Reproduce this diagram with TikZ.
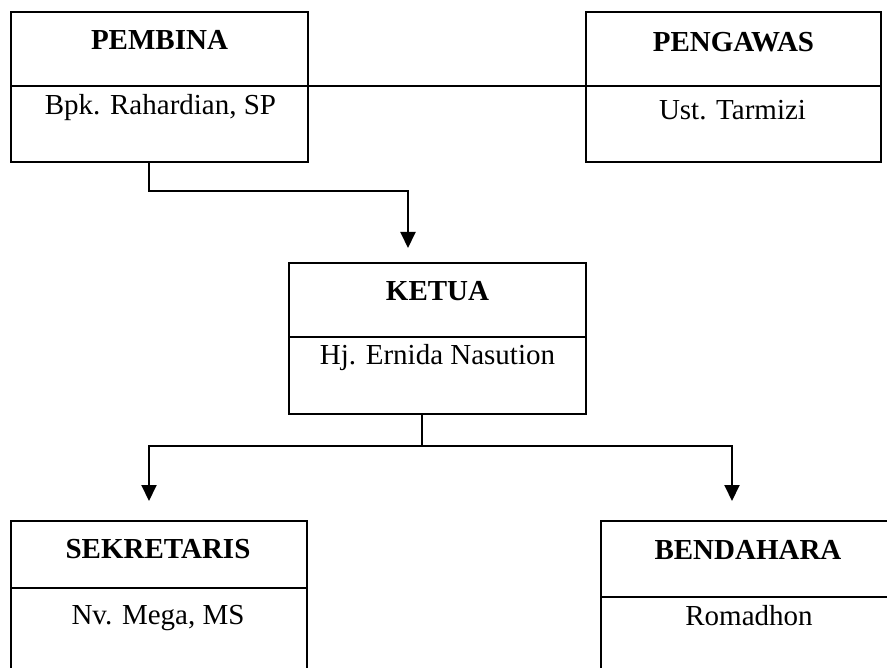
\documentclass[tikz,border=0pt]{standalone}
\usepackage{fontspec}
\setmainfont{Liberation Serif}
\usetikzlibrary{arrows.meta}
\begin{document}
\begin{tikzpicture}[x=1pt,y=1pt,
  box/.style={draw,line width=2pt,minimum width=#1,minimum height=150pt,inner sep=0pt,outer sep=0pt},
  ttl/.style={anchor=base,inner sep=0pt,font=\fontsize{29}{34}\selectfont\bfseries},
  nm/.style={anchor=base,inner sep=0pt,font=\fontsize{29}{34}\selectfont},
  line/.style={line width=2pt},
  arr/.style={line width=2pt,-{Triangle[width=15pt,length=16pt]}}]
\useasboundingbox (0,0) rectangle (887,-668);
\clip (0,0) rectangle (887,-668);
% boxes
\node[box=297pt] (pembina) at (159.5,-87) {};
\node[box=295pt] (pengawas) at (733.5,-87) {};
\node[box=297pt,minimum height=151pt] (ketua) at (437.5,-338.5) {};
\node[box=296pt] (sekretaris) at (159,-596) {};
\node[box=296pt] (bendahara) at (749,-596) {};
% dividers
\draw[line] ([yshift=-74pt]pembina.north west) -- ([yshift=-74pt]pembina.north east);
\draw[line] ([yshift=-74pt]pengawas.north west) -- ([yshift=-74pt]pengawas.north east);
\draw[line] ([yshift=-74pt]ketua.north west) -- ([yshift=-74pt]ketua.north east);
\draw[line] ([yshift=-67pt]sekretaris.north west) -- ([yshift=-67pt]sekretaris.north east);
\draw[line] ([yshift=-76pt]bendahara.north west) -- ([yshift=-76pt]bendahara.north east);
% texts
\node[ttl] (pembinaT) at (159.5,-50) {PEMBINA};
\node[nm] (pembinaN) at (160.5,-115) {Bpk. Rahardian, SP};
\node[ttl] (pengawasT) at (733.5,-52) {PENGAWAS};
\node[nm] (pengawasN) at (732.5,-120) {Ust. Tarmizi};
\node[ttl] (ketuaT) at (437.5,-301) {KETUA};
\node[nm] (ketuaN) at (437.5,-365) {Hj. Ernida Nasution};
\node[ttl] (sekretarisT) at (158,-558) {SEKRETARIS};
\node[nm] (sekretarisN) at (158,-624) {Nv. Mega, MS};
\node[ttl] (bendaharaT) at (748,-559) {BENDAHARA};
\node[nm] (bendaharaN) at (749,-625) {Romadhon};
% connectors
\draw[line] ([yshift=-74pt]pembina.north east) -- ([yshift=-74pt]pengawas.north west);
\draw[arr] ([xshift=138pt]pembina.south west) -- ++(0,-29) -| ([xshift=-29.5pt,yshift=15pt]ketua.north);
\coordinate (j) at ([xshift=-15.5pt,yshift=-32pt]ketua.south);
\draw[line] ([xshift=-15.5pt]ketua.south) -- (j);
\draw[arr] (j) -| ([xshift=-10pt,yshift=20pt]sekretaris.north);
\draw[arr] (j) -| ([xshift=-17pt,yshift=20pt]bendahara.north);
\end{tikzpicture}
\end{document}
